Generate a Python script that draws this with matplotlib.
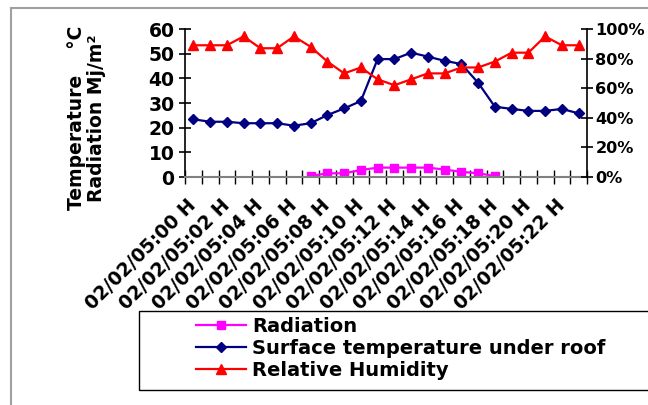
import numpy as np
import matplotlib.pyplot as plt
from matplotlib.lines import Line2D
from matplotlib.patches import Rectangle
from matplotlib.ticker import FixedLocator, FuncFormatter

plt.rcParams['font.family'] = ['DejaVu Sans']
plt.rcParams['font.weight'] = 'bold'
plt.rcParams['axes.labelweight'] = 'bold'

# hourly readings, 02/02/05
hours = ['02/02/05:00 H', '02/02/05:01 H', '02/02/05:02 H', '02/02/05:03 H',
         '02/02/05:04 H', '02/02/05:05 H', '02/02/05:06 H', '02/02/05:07 H',
         '02/02/05:08 H', '02/02/05:09 H', '02/02/05:10 H', '02/02/05:11 H',
         '02/02/05:12 H', '02/02/05:13 H', '02/02/05:14 H', '02/02/05:15 H',
         '02/02/05:16 H', '02/02/05:17 H', '02/02/05:18 H', '02/02/05:19 H',
         '02/02/05:20 H', '02/02/05:21 H', '02/02/05:22 H', '02/02/05:23 H']

radiation = [np.nan, np.nan, np.nan, np.nan, np.nan, np.nan, np.nan,
             0.4, 1.5, 1.5, 2.8, 3.8, 3.8, 3.8, 3.8, 3.0, 2.1, 1.5, 0.4,
             np.nan, np.nan, np.nan, np.nan, np.nan]
surface_temp = [23.4, 22.4, 22.4, 21.8, 21.8, 21.8, 20.8, 21.8, 25.1, 27.8, 30.8, 47.8,
                47.8, 50.4, 48.8, 47.1, 45.8, 38.2, 28.5, 27.6, 26.8, 26.8, 27.6, 25.8]
humidity = [89, 89, 89, 95, 87, 87, 95, 88, 78, 70, 74, 66,
            62, 66, 70, 70, 74, 74, 78, 84, 84, 95, 89, 89]

W, H = 648, 405
fig = plt.figure(figsize=(W / 100, H / 100), dpi=100)

# outer chart frame (only top/left visible in the crop)
fig.add_artist(Line2D([11 / W, 11 / W], [0, 1 - 8 / H], color='#a0a0a0', lw=1.5))
fig.add_artist(Line2D([11 / W, 1], [1 - 8 / H, 1 - 8 / H], color='#a0a0a0', lw=1.5))

ax = fig.add_axes([185 / W, 1 - 177 / H, (587 - 185) / W, (177 - 29) / H])
ax2 = ax.twinx()

x = np.arange(len(hours))
l1, = ax.plot(x, radiation, color='#ff00ff', marker='s', ms=6, lw=1.6,
              label='Radiation')
l2, = ax.plot(x, surface_temp, color='#000080', marker='D', ms=5.5, lw=1.6,
              label='Surface temperature under roof')
l3, = ax2.plot(x, humidity, color='#ff0000', marker='^', ms=7.5, lw=1.6,
               label='Relative Humidity')

ax.set_xlim(-0.5, len(hours) - 0.5)
ax.set_ylim(0, 60)
ax2.set_ylim(0, 100)

for s in ['top', 'right']:
    ax.spines[s].set_visible(False)
for s in ['top', 'left', 'bottom']:
    ax2.spines[s].set_visible(False)
ax.spines['bottom'].set_color('#808080')
ax.spines['bottom'].set_linewidth(1.5)
ax.spines['left'].set_linewidth(1.2)
ax2.spines['right'].set_linewidth(1.2)

ax.set_yticks(np.arange(0, 61, 10))
ax.tick_params(axis='y', direction='inout', length=9, width=1.2, pad=3, labelsize=13.5)
ax2.set_yticks(np.arange(0, 101, 20))
ax2.yaxis.set_major_formatter(FuncFormatter(lambda v, p: '%d%%' % v))
ax2.tick_params(axis='y', direction='inout', length=9, width=1.2, pad=1.5, labelsize=11.6)

# tick marks between categories, labels at every second category centre
ax.xaxis.set_major_locator(FixedLocator(np.arange(-0.5, len(hours), 1)))
ax.xaxis.set_major_formatter(FuncFormatter(lambda v, p: ''))
ax.xaxis.set_minor_locator(FixedLocator(x[::2]))
ax.set_xticklabels(hours[::2], minor=True, rotation=45, ha='right',
                   rotation_mode='anchor', fontsize=13.5, fontweight='bold')
ax.tick_params(axis='x', which='major', direction='inout', length=10, width=1)
ax.tick_params(axis='x', which='minor', length=0, pad=18)
for t in ax.xaxis.get_minorticklabels():
    t.set_va('center')

ax.set_ylabel('Temperature    \u00b0C\nRadiation Mj/m\u00b2',
              fontsize=13.5, fontweight='bold', linespacing=1.1)
ax.yaxis.set_label_coords(-79 / (587 - 185), 0.4)

# legend box
fig.add_artist(Rectangle((139 / W, 1 - 390 / H), 1, 79 / H, transform=fig.transFigure,
                         fill=False, edgecolor='black', lw=1))
fig.legend(handles=[l1, l2, l3], loc='upper left',
           bbox_to_anchor=(192 / W, 1 - 313 / H), frameon=False,
           prop={'size': 14, 'weight': 'bold'}, handlelength=2.6,
           handletextpad=0.3, labelspacing=0.15, borderaxespad=0, borderpad=0.2)

fig.savefig('out.png', dpi=100)
